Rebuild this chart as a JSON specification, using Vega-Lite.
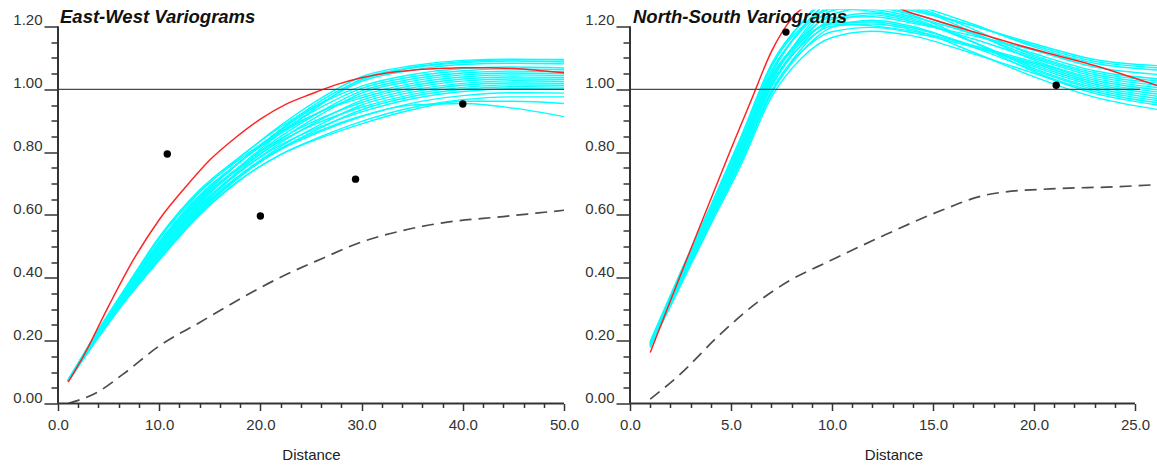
{
"$schema": "https://vega.github.io/schema/vega-lite/v6.json",
"padding": {"left": 12, "top": 7.5, "right": 0, "bottom": 0},
"autosize": {"type": "pad"},
"bounds": "flush",
"spacing": 66,
"config": {
 "view": {"stroke": null},
 "font": "Liberation Sans",
 "axis": {"domain": false, "grid": false, "labelFont": "Liberation Sans", "labelFontSize": 15, "labelColor": "#333", "tickColor": "#333", "tickWidth": 1.5, "labelOverlap": false, "labelFlush": false, "titleFont": "Liberation Sans", "titleFontSize": 15, "titleFontWeight": "normal", "titleColor": "#222"}
},
"datasets": {
 "ew_sims": [
{"s":1,"x":1,"y":0.070},{"s":1,"x":4,"y":0.210},{"s":1,"x":7,"y":0.340},{"s":1,"x":10,"y":0.456},{"s":1,"x":14,"y":0.600},{"s":1,"x":18,"y":0.711},{"s":1,"x":22,"y":0.793},{"s":1,"x":26,"y":0.850},{"s":1,"x":30,"y":0.898},{"s":1,"x":35,"y":0.942},{"s":1,"x":40,"y":0.967},{"s":1,"x":45,"y":0.976},{"s":1,"x":50,"y":0.976},
{"s":2,"x":1,"y":0.071},{"s":2,"x":4,"y":0.213},{"s":2,"x":7,"y":0.345},{"s":2,"x":10,"y":0.463},{"s":2,"x":14,"y":0.608},{"s":2,"x":18,"y":0.722},{"s":2,"x":22,"y":0.810},{"s":2,"x":26,"y":0.878},{"s":2,"x":30,"y":0.935},{"s":2,"x":35,"y":0.977},{"s":2,"x":40,"y":1.000},{"s":2,"x":45,"y":1.008},{"s":2,"x":50,"y":1.007},
{"s":3,"x":1,"y":0.071},{"s":3,"x":4,"y":0.215},{"s":3,"x":7,"y":0.349},{"s":3,"x":10,"y":0.471},{"s":3,"x":14,"y":0.616},{"s":3,"x":18,"y":0.725},{"s":3,"x":22,"y":0.808},{"s":3,"x":26,"y":0.866},{"s":3,"x":30,"y":0.913},{"s":3,"x":35,"y":0.956},{"s":3,"x":40,"y":0.980},{"s":3,"x":45,"y":0.989},{"s":3,"x":50,"y":0.988},
{"s":4,"x":1,"y":0.072},{"s":4,"x":4,"y":0.218},{"s":4,"x":7,"y":0.354},{"s":4,"x":10,"y":0.478},{"s":4,"x":14,"y":0.624},{"s":4,"x":18,"y":0.738},{"s":4,"x":22,"y":0.830},{"s":4,"x":26,"y":0.904},{"s":4,"x":30,"y":0.965},{"s":4,"x":35,"y":1.005},{"s":4,"x":40,"y":1.026},{"s":4,"x":45,"y":1.033},{"s":4,"x":50,"y":1.032},
{"s":5,"x":1,"y":0.072},{"s":5,"x":4,"y":0.220},{"s":5,"x":7,"y":0.358},{"s":5,"x":10,"y":0.486},{"s":5,"x":14,"y":0.632},{"s":5,"x":18,"y":0.739},{"s":5,"x":22,"y":0.823},{"s":5,"x":26,"y":0.882},{"s":5,"x":30,"y":0.928},{"s":5,"x":35,"y":0.970},{"s":5,"x":40,"y":0.993},{"s":5,"x":45,"y":1.002},{"s":5,"x":50,"y":1.001},
{"s":6,"x":1,"y":0.073},{"s":6,"x":4,"y":0.223},{"s":6,"x":7,"y":0.363},{"s":6,"x":10,"y":0.493},{"s":6,"x":14,"y":0.640},{"s":6,"x":18,"y":0.754},{"s":6,"x":22,"y":0.850},{"s":6,"x":26,"y":0.930},{"s":6,"x":30,"y":0.995},{"s":6,"x":35,"y":1.033},{"s":6,"x":40,"y":1.052},{"s":6,"x":45,"y":1.058},{"s":6,"x":50,"y":1.056},
{"s":7,"x":1,"y":0.073},{"s":7,"x":4,"y":0.225},{"s":7,"x":7,"y":0.367},{"s":7,"x":10,"y":0.500},{"s":7,"x":14,"y":0.648},{"s":7,"x":18,"y":0.755},{"s":7,"x":22,"y":0.843},{"s":7,"x":26,"y":0.908},{"s":7,"x":30,"y":0.958},{"s":7,"x":35,"y":0.998},{"s":7,"x":40,"y":1.019},{"s":7,"x":45,"y":1.027},{"s":7,"x":50,"y":1.025},
{"s":8,"x":1,"y":0.074},{"s":8,"x":4,"y":0.228},{"s":8,"x":7,"y":0.372},{"s":8,"x":10,"y":0.508},{"s":8,"x":14,"y":0.656},{"s":8,"x":18,"y":0.770},{"s":8,"x":22,"y":0.870},{"s":8,"x":26,"y":0.956},{"s":8,"x":30,"y":1.025},{"s":8,"x":35,"y":1.061},{"s":8,"x":40,"y":1.079},{"s":8,"x":45,"y":1.083},{"s":8,"x":50,"y":1.081},
{"s":9,"x":1,"y":0.074},{"s":9,"x":4,"y":0.230},{"s":9,"x":7,"y":0.376},{"s":9,"x":10,"y":0.515},{"s":9,"x":14,"y":0.664},{"s":9,"x":18,"y":0.770},{"s":9,"x":22,"y":0.860},{"s":9,"x":26,"y":0.930},{"s":9,"x":30,"y":0.980},{"s":9,"x":35,"y":1.019},{"s":9,"x":40,"y":1.039},{"s":9,"x":45,"y":1.046},{"s":9,"x":50,"y":1.044},
{"s":10,"x":1,"y":0.075},{"s":10,"x":4,"y":0.233},{"s":10,"x":7,"y":0.381},{"s":10,"x":10,"y":0.523},{"s":10,"x":14,"y":0.672},{"s":10,"x":18,"y":0.784},{"s":10,"x":22,"y":0.885},{"s":10,"x":26,"y":0.972},{"s":10,"x":30,"y":1.040},{"s":10,"x":35,"y":1.075},{"s":10,"x":40,"y":1.092},{"s":10,"x":45,"y":1.096},{"s":10,"x":50,"y":1.093},
{"s":11,"x":1,"y":0.075},{"s":11,"x":4,"y":0.235},{"s":11,"x":7,"y":0.385},{"s":11,"x":10,"y":0.530},{"s":11,"x":14,"y":0.680},{"s":11,"x":18,"y":0.786},{"s":11,"x":22,"y":0.880},{"s":11,"x":26,"y":0.956},{"s":11,"x":30,"y":1.010},{"s":11,"x":35,"y":1.047},{"s":11,"x":40,"y":1.066},{"s":11,"x":45,"y":1.071},{"s":11,"x":50,"y":1.068},
{"s":12,"x":1,"y":0.071},{"s":12,"x":4,"y":0.214},{"s":12,"x":7,"y":0.347},{"s":12,"x":10,"y":0.467},{"s":12,"x":14,"y":0.612},{"s":12,"x":18,"y":0.727},{"s":12,"x":22,"y":0.818},{"s":12,"x":26,"y":0.889},{"s":12,"x":30,"y":0.950},{"s":12,"x":35,"y":0.991},{"s":12,"x":40,"y":1.013},{"s":12,"x":45,"y":1.020},{"s":12,"x":50,"y":1.019},
{"s":13,"x":1,"y":0.072},{"s":13,"x":4,"y":0.219},{"s":13,"x":7,"y":0.356},{"s":13,"x":10,"y":0.482},{"s":13,"x":14,"y":0.628},{"s":13,"x":18,"y":0.744},{"s":13,"x":22,"y":0.840},{"s":13,"x":26,"y":0.920},{"s":13,"x":30,"y":0.988},{"s":13,"x":35,"y":1.026},{"s":13,"x":40,"y":1.046},{"s":13,"x":45,"y":1.052},{"s":13,"x":50,"y":1.050},
{"s":14,"x":1,"y":0.073},{"s":14,"x":4,"y":0.224},{"s":14,"x":7,"y":0.365},{"s":14,"x":10,"y":0.497},{"s":14,"x":14,"y":0.644},{"s":14,"x":18,"y":0.750},{"s":14,"x":22,"y":0.835},{"s":14,"x":26,"y":0.897},{"s":14,"x":30,"y":0.943},{"s":14,"x":35,"y":0.984},{"s":14,"x":40,"y":1.006},{"s":14,"x":45,"y":1.014},{"s":14,"x":50,"y":1.013},
{"s":15,"x":1,"y":0.074},{"s":15,"x":4,"y":0.229},{"s":15,"x":7,"y":0.374},{"s":15,"x":10,"y":0.512},{"s":15,"x":14,"y":0.660},{"s":15,"x":18,"y":0.770},{"s":15,"x":22,"y":0.865},{"s":15,"x":26,"y":0.943},{"s":15,"x":30,"y":1.003},{"s":15,"x":35,"y":1.040},{"s":15,"x":40,"y":1.059},{"s":15,"x":45,"y":1.065},{"s":15,"x":50,"y":1.062},
{"s":16,"x":1,"y":0.075},{"s":16,"x":4,"y":0.234},{"s":16,"x":7,"y":0.383},{"s":16,"x":10,"y":0.526},{"s":16,"x":14,"y":0.676},{"s":16,"x":18,"y":0.778},{"s":16,"x":22,"y":0.865},{"s":16,"x":26,"y":0.930},{"s":16,"x":30,"y":0.973},{"s":16,"x":35,"y":1.012},{"s":16,"x":40,"y":1.033},{"s":16,"x":45,"y":1.039},{"s":16,"x":50,"y":1.038},
{"s":17,"x":1,"y":0.072},{"s":17,"x":4,"y":0.221},{"s":17,"x":7,"y":0.360},{"s":17,"x":10,"y":0.489},{"s":17,"x":14,"y":0.636},{"s":17,"x":18,"y":0.756},{"s":17,"x":22,"y":0.860},{"s":17,"x":26,"y":0.952},{"s":17,"x":30,"y":1.033},{"s":17,"x":35,"y":1.068},{"s":17,"x":40,"y":1.085},{"s":17,"x":45,"y":1.090},{"s":17,"x":50,"y":1.087},
{"s":18,"x":1,"y":0.071},{"s":18,"x":4,"y":0.216},{"s":18,"x":7,"y":0.351},{"s":18,"x":10,"y":0.474},{"s":18,"x":14,"y":0.620},{"s":18,"x":18,"y":0.728},{"s":18,"x":22,"y":0.812},{"s":18,"x":26,"y":0.870},{"s":18,"x":30,"y":0.915},{"s":18,"x":35,"y":0.950},{"s":18,"x":40,"y":0.955},{"s":18,"x":45,"y":0.940},{"s":18,"x":50,"y":0.913},
{"s":19,"x":1,"y":0.070},{"s":19,"x":4,"y":0.211},{"s":19,"x":7,"y":0.342},{"s":19,"x":10,"y":0.460},{"s":19,"x":14,"y":0.604},{"s":19,"x":18,"y":0.713},{"s":19,"x":22,"y":0.792},{"s":19,"x":26,"y":0.846},{"s":19,"x":30,"y":0.890},{"s":19,"x":35,"y":0.935},{"s":19,"x":40,"y":0.962},{"s":19,"x":45,"y":0.962},{"s":19,"x":50,"y":0.955},
{"s":20,"x":1,"y":0.073},{"s":20,"x":4,"y":0.226},{"s":20,"x":7,"y":0.369},{"s":20,"x":10,"y":0.504},{"s":20,"x":14,"y":0.652},{"s":20,"x":18,"y":0.769},{"s":20,"x":22,"y":0.873},{"s":20,"x":26,"y":0.964},{"s":20,"x":30,"y":1.030},{"s":20,"x":35,"y":1.070},{"s":20,"x":40,"y":1.088},{"s":20,"x":45,"y":1.094},{"s":20,"x":50,"y":1.095}
 ],
 "ew_red": [
{"x":1,"y":0.068},{"x":2.5,"y":0.150},{"x":5,"y":0.310},{"x":7.5,"y":0.460},{"x":10,"y":0.585},{"x":12.5,"y":0.685},{"x":15,"y":0.775},{"x":17.5,"y":0.845},{"x":20,"y":0.905},{"x":22.5,"y":0.952},{"x":25,"y":0.985},{"x":27.5,"y":1.015},{"x":30,"y":1.037},{"x":32.5,"y":1.052},{"x":35,"y":1.061},{"x":37.5,"y":1.066},{"x":40,"y":1.069},{"x":42.5,"y":1.069},{"x":45,"y":1.066},{"x":47.5,"y":1.060},{"x":50,"y":1.053}
 ],
 "ew_dash": [
{"x":1,"y":0.0},{"x":4,"y":0.038},{"x":6.5,"y":0.095},{"x":10,"y":0.183},{"x":14,"y":0.258},{"x":18,"y":0.333},{"x":22,"y":0.402},{"x":26,"y":0.460},{"x":30,"y":0.514},{"x":34,"y":0.550},{"x":38,"y":0.575},{"x":44,"y":0.595},{"x":50,"y":0.615}
 ],
 "ew_pts": [{"x":10.8,"y":0.794},{"x":20.0,"y":0.597},{"x":29.4,"y":0.714},{"x":40.0,"y":0.953}],
 "ns_sims": [
{"s":1,"x":1,"y":0.178},{"s":1,"x":2.5,"y":0.375},{"s":1,"x":4,"y":0.570},{"s":1,"x":5.5,"y":0.760},{"s":1,"x":7,"y":0.975},{"s":1,"x":8.5,"y":1.100},{"s":1,"x":10,"y":1.165},{"s":1,"x":12,"y":1.185},{"s":1,"x":14,"y":1.170},{"s":1,"x":17,"y":1.113},{"s":1,"x":20,"y":1.051},{"s":1,"x":23,"y":0.987},{"s":1,"x":26.2,"y":0.949},
{"s":2,"x":1,"y":0.180},{"s":2,"x":2.5,"y":0.379},{"s":2,"x":4,"y":0.576},{"s":2,"x":5.5,"y":0.769},{"s":2,"x":7,"y":0.986},{"s":2,"x":8.5,"y":1.120},{"s":2,"x":10,"y":1.197},{"s":2,"x":12,"y":1.220},{"s":2,"x":14,"y":1.200},{"s":2,"x":17,"y":1.134},{"s":2,"x":20,"y":1.061},{"s":2,"x":23,"y":0.999},{"s":2,"x":26.2,"y":0.963},
{"s":3,"x":1,"y":0.182},{"s":3,"x":2.5,"y":0.384},{"s":3,"x":4,"y":0.582},{"s":3,"x":5.5,"y":0.778},{"s":3,"x":7,"y":0.996},{"s":3,"x":8.5,"y":1.120},{"s":3,"x":10,"y":1.183},{"s":3,"x":12,"y":1.197},{"s":3,"x":14,"y":1.180},{"s":3,"x":17,"y":1.134},{"s":3,"x":20,"y":1.082},{"s":3,"x":23,"y":1.023},{"s":3,"x":26.2,"y":0.991},
{"s":4,"x":1,"y":0.184},{"s":4,"x":2.5,"y":0.388},{"s":4,"x":4,"y":0.588},{"s":4,"x":5.5,"y":0.787},{"s":4,"x":7,"y":1.007},{"s":4,"x":8.5,"y":1.144},{"s":4,"x":10,"y":1.223},{"s":4,"x":12,"y":1.243},{"s":4,"x":14,"y":1.220},{"s":4,"x":17,"y":1.150},{"s":4,"x":20,"y":1.072},{"s":4,"x":23,"y":1.011},{"s":4,"x":26.2,"y":0.977},
{"s":5,"x":1,"y":0.186},{"s":5,"x":2.5,"y":0.392},{"s":5,"x":4,"y":0.594},{"s":5,"x":5.5,"y":0.796},{"s":5,"x":7,"y":1.017},{"s":5,"x":8.5,"y":1.140},{"s":5,"x":10,"y":1.201},{"s":5,"x":12,"y":1.208},{"s":5,"x":14,"y":1.190},{"s":5,"x":17,"y":1.118},{"s":5,"x":20,"y":1.040},{"s":5,"x":23,"y":0.975},{"s":5,"x":26.2,"y":0.935},
{"s":6,"x":1,"y":0.188},{"s":6,"x":2.5,"y":0.397},{"s":6,"x":4,"y":0.600},{"s":6,"x":5.5,"y":0.805},{"s":6,"x":7,"y":1.028},{"s":6,"x":8.5,"y":1.168},{"s":6,"x":10,"y":1.250},{"s":6,"x":12,"y":1.266},{"s":6,"x":14,"y":1.240},{"s":6,"x":17,"y":1.176},{"s":6,"x":20,"y":1.103},{"s":6,"x":23,"y":1.047},{"s":6,"x":26.2,"y":1.019},
{"s":7,"x":1,"y":0.189},{"s":7,"x":2.5,"y":0.401},{"s":7,"x":4,"y":0.606},{"s":7,"x":5.5,"y":0.814},{"s":7,"x":7,"y":1.038},{"s":7,"x":8.5,"y":1.164},{"s":7,"x":10,"y":1.228},{"s":7,"x":12,"y":1.231},{"s":7,"x":14,"y":1.210},{"s":7,"x":17,"y":1.170},{"s":7,"x":20,"y":1.124},{"s":7,"x":23,"y":1.071},{"s":7,"x":26.2,"y":1.047},
{"s":8,"x":1,"y":0.191},{"s":8,"x":2.5,"y":0.405},{"s":8,"x":4,"y":0.612},{"s":8,"x":5.5,"y":0.823},{"s":8,"x":7,"y":1.049},{"s":8,"x":8.5,"y":1.192},{"s":8,"x":10,"y":1.278},{"s":8,"x":12,"y":1.289},{"s":8,"x":14,"y":1.260},{"s":8,"x":17,"y":1.181},{"s":8,"x":20,"y":1.093},{"s":8,"x":23,"y":1.035},{"s":8,"x":26.2,"y":1.005},
{"s":9,"x":1,"y":0.193},{"s":9,"x":2.5,"y":0.409},{"s":9,"x":4,"y":0.618},{"s":9,"x":5.5,"y":0.832},{"s":9,"x":7,"y":1.059},{"s":9,"x":8.5,"y":1.188},{"s":9,"x":10,"y":1.255},{"s":9,"x":12,"y":1.254},{"s":9,"x":14,"y":1.230},{"s":9,"x":17,"y":1.176},{"s":9,"x":20,"y":1.114},{"s":9,"x":23,"y":1.059},{"s":9,"x":26.2,"y":1.033},
{"s":10,"x":1,"y":0.195},{"s":10,"x":2.5,"y":0.414},{"s":10,"x":4,"y":0.624},{"s":10,"x":5.5,"y":0.841},{"s":10,"x":7,"y":1.070},{"s":10,"x":8.5,"y":1.212},{"s":10,"x":10,"y":1.296},{"s":10,"x":12,"y":1.300},{"s":10,"x":14,"y":1.270},{"s":10,"x":17,"y":1.207},{"s":10,"x":20,"y":1.135},{"s":10,"x":23,"y":1.083},{"s":10,"x":26.2,"y":1.061},
{"s":11,"x":1,"y":0.197},{"s":11,"x":2.5,"y":0.418},{"s":11,"x":4,"y":0.630},{"s":11,"x":5.5,"y":0.850},{"s":11,"x":7,"y":1.080},{"s":11,"x":8.5,"y":1.212},{"s":11,"x":10,"y":1.282},{"s":11,"x":12,"y":1.277},{"s":11,"x":14,"y":1.250},{"s":11,"x":17,"y":1.202},{"s":11,"x":20,"y":1.145},{"s":11,"x":23,"y":1.095},{"s":11,"x":26.2,"y":1.075},
{"s":12,"x":1,"y":0.181},{"s":12,"x":2.5,"y":0.381},{"s":12,"x":4,"y":0.579},{"s":12,"x":5.5,"y":0.774},{"s":12,"x":7,"y":0.991},{"s":12,"x":8.5,"y":1.130},{"s":12,"x":10,"y":1.212},{"s":12,"x":12,"y":1.237},{"s":12,"x":14,"y":1.215},{"s":12,"x":17,"y":1.160},{"s":12,"x":20,"y":1.098},{"s":12,"x":23,"y":1.041},{"s":12,"x":26.2,"y":1.012},
{"s":13,"x":1,"y":0.185},{"s":13,"x":2.5,"y":0.390},{"s":13,"x":4,"y":0.591},{"s":13,"x":5.5,"y":0.792},{"s":13,"x":7,"y":1.012},{"s":13,"x":8.5,"y":1.154},{"s":13,"x":10,"y":1.239},{"s":13,"x":12,"y":1.260},{"s":13,"x":14,"y":1.235},{"s":13,"x":17,"y":1.150},{"s":13,"x":20,"y":1.056},{"s":13,"x":23,"y":0.993},{"s":13,"x":26.2,"y":0.956},
{"s":14,"x":1,"y":0.188},{"s":14,"x":2.5,"y":0.399},{"s":14,"x":4,"y":0.603},{"s":14,"x":5.5,"y":0.810},{"s":14,"x":7,"y":1.033},{"s":14,"x":8.5,"y":1.154},{"s":14,"x":10,"y":1.212},{"s":14,"x":12,"y":1.214},{"s":14,"x":14,"y":1.195},{"s":14,"x":17,"y":1.139},{"s":14,"x":20,"y":1.077},{"s":14,"x":23,"y":1.017},{"s":14,"x":26.2,"y":0.984},
{"s":15,"x":1,"y":0.192},{"s":15,"x":2.5,"y":0.407},{"s":15,"x":4,"y":0.615},{"s":15,"x":5.5,"y":0.828},{"s":15,"x":7,"y":1.054},{"s":15,"x":8.5,"y":1.194},{"s":15,"x":10,"y":1.275},{"s":15,"x":12,"y":1.283},{"s":15,"x":14,"y":1.255},{"s":15,"x":17,"y":1.202},{"s":15,"x":20,"y":1.140},{"s":15,"x":23,"y":1.089},{"s":15,"x":26.2,"y":1.068},
{"s":16,"x":1,"y":0.196},{"s":16,"x":2.5,"y":0.416},{"s":16,"x":4,"y":0.627},{"s":16,"x":5.5,"y":0.846},{"s":16,"x":7,"y":1.075},{"s":16,"x":8.5,"y":1.198},{"s":16,"x":10,"y":1.257},{"s":16,"x":12,"y":1.248},{"s":16,"x":14,"y":1.225},{"s":16,"x":17,"y":1.150},{"s":16,"x":20,"y":1.066},{"s":16,"x":23,"y":1.005},{"s":16,"x":26.2,"y":0.970},
{"s":17,"x":1,"y":0.187},{"s":17,"x":2.5,"y":0.394},{"s":17,"x":4,"y":0.597},{"s":17,"x":5.5,"y":0.801},{"s":17,"x":7,"y":1.022},{"s":17,"x":8.5,"y":1.174},{"s":17,"x":10,"y":1.271},{"s":17,"x":12,"y":1.294},{"s":17,"x":14,"y":1.265},{"s":17,"x":17,"y":1.191},{"s":17,"x":20,"y":1.108},{"s":17,"x":23,"y":1.053},{"s":17,"x":26.2,"y":1.026},
{"s":18,"x":1,"y":0.190},{"s":18,"x":2.5,"y":0.403},{"s":18,"x":4,"y":0.609},{"s":18,"x":5.5,"y":0.819},{"s":18,"x":7,"y":1.043},{"s":18,"x":8.5,"y":1.158},{"s":18,"x":10,"y":1.208},{"s":18,"x":12,"y":1.202},{"s":18,"x":14,"y":1.185},{"s":18,"x":17,"y":1.139},{"s":18,"x":20,"y":1.087},{"s":18,"x":23,"y":1.029},{"s":18,"x":26.2,"y":0.998}
 ],
 "ns_red": [
{"x":1,"y":0.162},{"x":2,"y":0.327},{"x":3,"y":0.490},{"x":4,"y":0.650},{"x":5,"y":0.810},{"x":6,"y":0.965},{"x":7,"y":1.120},{"x":8,"y":1.225},{"x":9,"y":1.280},{"x":10,"y":1.310},{"x":11,"y":1.315},{"x":12,"y":1.300},{"x":13.5,"y":1.253},{"x":15,"y":1.222},{"x":17,"y":1.183},{"x":19,"y":1.145},{"x":21,"y":1.110},{"x":23,"y":1.076},{"x":25,"y":1.035},{"x":26.2,"y":1.010}
 ],
 "ns_dash": [
{"x":1,"y":0.014},{"x":2.5,"y":0.094},{"x":4.3,"y":0.210},{"x":6.3,"y":0.322},{"x":7.9,"y":0.391},{"x":9.9,"y":0.454},{"x":12.4,"y":0.530},{"x":15.4,"y":0.614},{"x":17.5,"y":0.662},{"x":18.4,"y":0.672},{"x":20.8,"y":0.683},{"x":24.1,"y":0.690},{"x":26.2,"y":0.697}
 ],
 "ns_pts": [{"x":7.72,"y":1.182},{"x":21.1,"y":1.013}]
},
"hconcat": [
 {
  "width": 506, "height": 394,
  "title": {"text": "East-West Variograms", "anchor": "start", "frame": "group", "offset": -17, "dx": 2, "font": "Liberation Sans", "fontSize": 18.5, "fontStyle": "italic", "fontWeight": "bold", "color": "#111"},
  "encoding": {
   "x": {"field": "x", "type": "quantitative", "scale": {"domain": [0, 50], "nice": false, "zero": false},
    "axis": {"title": "Distance", "values": [0,2,4,6,8,10,12,14,16,18,20,22,24,26,28,30,32,34,36,38,40,42,44,46,48,50],
     "tickSize": {"condition": {"test": "datum.value % 10 === 0", "value": 7}, "value": 4},
     "labelExpr": "datum.value % 10 === 0 ? format(datum.value, '.1f') : ''", "labelPadding": 6.5, "titlePadding": 15}},
   "y": {"field": "y", "type": "quantitative", "scale": {"domain": [0, 1.254], "nice": false, "zero": false},
    "axis": {"title": null, "values": [0,0.05,0.1,0.15,0.2,0.25,0.3,0.35,0.4,0.45,0.5,0.55,0.6,0.65,0.7,0.75,0.8,0.85,0.9,0.95,1,1.05,1.1,1.15,1.2],
     "tickSize": {"condition": {"test": "abs(datum.value*5 - round(datum.value*5)) < 0.001", "value": 14}, "value": 7},
     "labelExpr": "abs(datum.value*5 - round(datum.value*5)) < 0.001 ? format(datum.value, '.2f') : ''",
     "labelPadding": 2, "labelBaseline": "alphabetic", "labelOffset": -1.5}}
  },
  "layer": [
   {"data": {"name": "ew_sims"}, "mark": {"type": "line", "color": "#00ffff", "strokeWidth": 1.4, "interpolate": "monotone", "clip": true}, "encoding": {"detail": {"field": "s", "type": "nominal"}}},
   {"data": {"name": "ew_red"}, "mark": {"type": "line", "color": "#ff2525", "strokeWidth": 1.5, "interpolate": "monotone", "clip": true}, "encoding": {}},
   {"data": {"name": "ew_dash"}, "mark": {"type": "line", "color": "#4d4d4d", "strokeWidth": 1.7, "strokeDash": [12, 7], "interpolate": "monotone", "clip": true}, "encoding": {}},
   {"data": {"values": [{"x": 0, "x2": 50, "y": 1}]}, "mark": {"type": "rule", "color": "#4a4a4a", "strokeWidth": 1.3}, "encoding": {"x2": {"field": "x2"}}},
   {"data": {"values": [{"x": 0, "x2": 50, "y": 0}]}, "mark": {"type": "rule", "color": "#333333", "strokeWidth": 2}, "encoding": {"x2": {"field": "x2"}}},
   {"data": {"values": [{"x": 0, "y": 0, "y2": 1.2}]}, "mark": {"type": "rule", "color": "#333333", "strokeWidth": 2}, "encoding": {"y2": {"field": "y2"}}},
   {"data": {"name": "ew_pts"}, "mark": {"type": "circle", "color": "#000000", "opacity": 1, "size": 55}, "encoding": {}}
  ]
 },
 {
  "width": 527, "height": 394,
  "title": {"text": "North-South Variograms", "anchor": "start", "frame": "group", "offset": -17, "dx": 3, "font": "Liberation Sans", "fontSize": 18.5, "fontStyle": "italic", "fontWeight": "bold", "color": "#111"},
  "encoding": {
   "x": {"field": "x", "type": "quantitative", "scale": {"domain": [0, 26.09], "nice": false, "zero": false},
    "axis": {"title": "Distance", "values": [0,1,2,3,4,5,6,7,8,9,10,11,12,13,14,15,16,17,18,19,20,21,22,23,24,25],
     "tickSize": {"condition": {"test": "datum.value % 5 === 0", "value": 7}, "value": 4},
     "labelExpr": "datum.value % 5 === 0 ? format(datum.value, '.1f') : ''", "labelPadding": 6.5, "titlePadding": 15}},
   "y": {"field": "y", "type": "quantitative", "scale": {"domain": [0, 1.254], "nice": false, "zero": false},
    "axis": {"title": null, "values": [0,0.05,0.1,0.15,0.2,0.25,0.3,0.35,0.4,0.45,0.5,0.55,0.6,0.65,0.7,0.75,0.8,0.85,0.9,0.95,1,1.05,1.1,1.15,1.2],
     "tickSize": {"condition": {"test": "abs(datum.value*5 - round(datum.value*5)) < 0.001", "value": 14}, "value": 7},
     "labelExpr": "abs(datum.value*5 - round(datum.value*5)) < 0.001 ? format(datum.value, '.2f') : ''",
     "labelPadding": 2, "labelBaseline": "alphabetic", "labelOffset": -1.5}}
  },
  "layer": [
   {"data": {"name": "ns_sims"}, "mark": {"type": "line", "color": "#00ffff", "strokeWidth": 1.4, "interpolate": "monotone", "clip": true}, "encoding": {"detail": {"field": "s", "type": "nominal"}}},
   {"data": {"name": "ns_red"}, "mark": {"type": "line", "color": "#ff2525", "strokeWidth": 1.5, "interpolate": "monotone", "clip": true}, "encoding": {}},
   {"data": {"name": "ns_dash"}, "mark": {"type": "line", "color": "#4d4d4d", "strokeWidth": 1.7, "strokeDash": [12, 7], "interpolate": "monotone", "clip": true}, "encoding": {}},
   {"data": {"values": [{"x": 0, "x2": 25.25, "y": 1}]}, "mark": {"type": "rule", "color": "#4a4a4a", "strokeWidth": 1.3}, "encoding": {"x2": {"field": "x2"}}},
   {"data": {"values": [{"x": 0, "x2": 25, "y": 0}]}, "mark": {"type": "rule", "color": "#333333", "strokeWidth": 2}, "encoding": {"x2": {"field": "x2"}}},
   {"data": {"values": [{"x": 0, "y": 0, "y2": 1.2}]}, "mark": {"type": "rule", "color": "#333333", "strokeWidth": 2}, "encoding": {"y2": {"field": "y2"}}},
   {"data": {"name": "ns_pts"}, "mark": {"type": "circle", "color": "#000000", "opacity": 1, "size": 55}, "encoding": {}}
  ]
 }
]
}
